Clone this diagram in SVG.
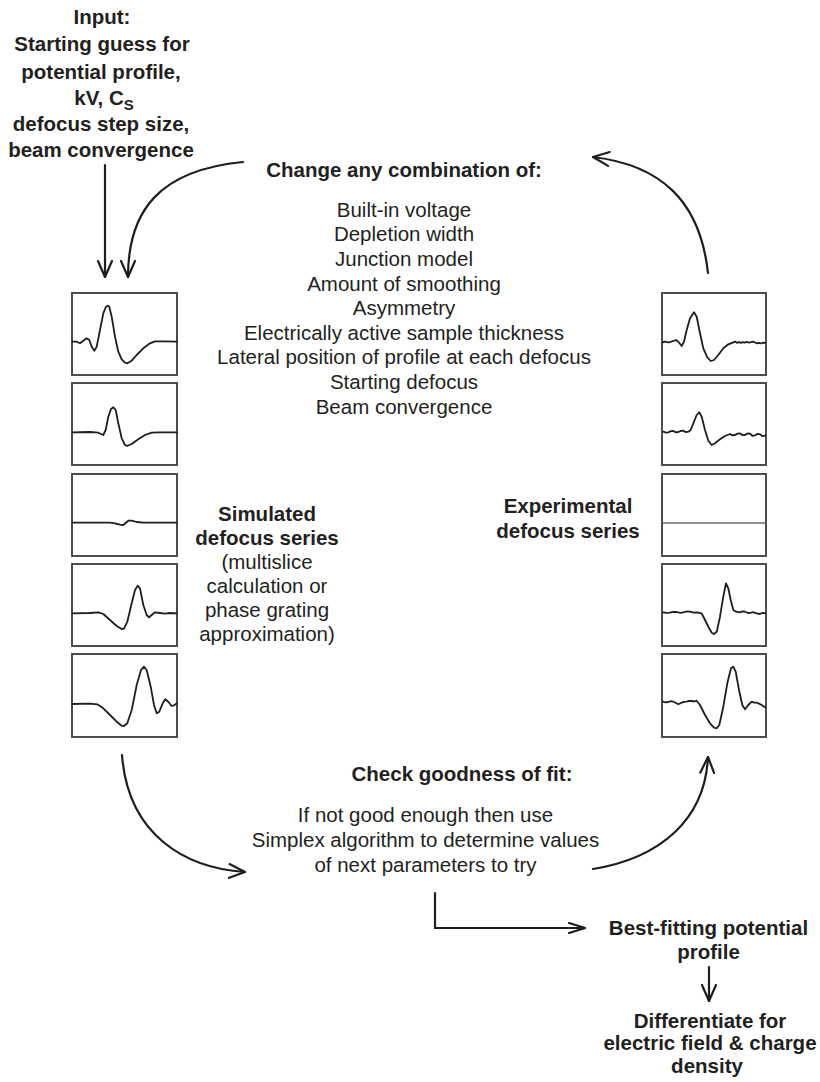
<svg xmlns="http://www.w3.org/2000/svg" width="820" height="1082" viewBox="0 0 820 1082">
<style>
.b{font-family:"Liberation Sans",Arial,Helvetica,sans-serif;font-weight:bold;font-size:20.5px;fill:#231f20;text-anchor:middle}
.r{font-family:"Liberation Sans",Arial,Helvetica,sans-serif;font-size:20.5px;fill:#231f20;text-anchor:middle}
.box{fill:#fff;stroke:#4d4d4d;stroke-width:2}
.w{fill:none;stroke:#1e1e1e;stroke-width:1.8;stroke-linejoin:round;stroke-linecap:round}
.c{fill:none;stroke:#1e1e1e;stroke-width:2.2;stroke-linecap:round}
</style>
<defs>
<marker id="ah" viewBox="0 0 18 16" refX="17" refY="8" markerWidth="18" markerHeight="16" markerUnits="userSpaceOnUse" orient="auto"><path d="M1,1 L17,8 L1,15" fill="none" stroke="#1e1e1e" stroke-width="2.2" stroke-linecap="round" stroke-linejoin="round"/></marker>
<marker id="ahs" viewBox="0 0 18 12" refX="17" refY="6" markerWidth="18" markerHeight="12" markerUnits="userSpaceOnUse" orient="auto"><path d="M1,1 L17,6 L1,11" fill="none" stroke="#1e1e1e" stroke-width="2.2" stroke-linecap="round" stroke-linejoin="round"/></marker>
</defs>
<rect width="820" height="1082" fill="#fff"/>

<g id="input">
<text class="b" x="102" y="24">Input:</text>
<text class="b" x="102" y="51">Starting guess for</text>
<text class="b" x="101" y="78.5">potential profile,</text>
<text class="b" x="104" y="104.5">kV, C<tspan font-size="15" dy="5">S</tspan></text>
<text class="b" x="101" y="131">defocus step size,</text>
<text class="b" x="101" y="157">beam convergence</text>
</g>

<g id="change">
<text class="b" x="404" y="176.7">Change any combination of:</text>
<text class="r" x="404" y="216.7">Built-in voltage</text>
<text class="r" x="404" y="241.3">Depletion width</text>
<text class="r" x="404" y="265.9">Junction model</text>
<text class="r" x="404" y="290.5">Amount of smoothing</text>
<text class="r" x="404" y="315.1">Asymmetry</text>
<text class="r" x="404" y="339.7">Electrically active sample thickness</text>
<text class="r" x="404" y="364.3">Lateral position of profile at each defocus</text>
<text class="r" x="404" y="388.9">Starting defocus</text>
<text class="r" x="404" y="413.5">Beam convergence</text>
</g>

<g id="simulated">
<rect class="box" x="72" y="293" width="105" height="82"/>
<rect class="box" x="72" y="383" width="105" height="82"/>
<rect class="box" x="72" y="474" width="105" height="82"/>
<rect class="box" x="72" y="564" width="105" height="82"/>
<rect class="box" x="72" y="654" width="105" height="83"/>
<polyline class="w" points="72.3,341.7 76.7,341.7 80,343.3 83.3,340.7 86.7,338.3 89.3,340 91.7,346.7 94.3,350.7 96.7,346.7 100,330 103.3,313.3 106,306.7 107.7,305.7 109.3,306.7 111.7,316.7 115,336.7 118.3,351.7 121.7,359.3 125,362.7 127.3,363.3 131.7,360.7 136.7,355 143.3,348.3 150,343.3 155,341.3 163.3,341.3 177,341.7"/>
<polyline class="w" points="72.3,432.3 90,432 98.3,432.7 101.7,434.3 103.3,435 105.7,430 108.3,416.7 111,409 113.3,407.3 115.7,410 118.3,423.3 121.7,438.3 125,445 127.3,446 131.7,444 138.3,439.3 145,435 151.7,432.7 160,432.3 177,432.3"/>
<polyline class="w" points="72.3,522.7 110,522.7 115,523.3 120,524.7 123.3,525 126,522.7 128.3,520.7 131.7,520.7 136.7,522 143.3,522.7 177,522.7"/>
<polyline class="w" points="72.3,613.3 90,613 98.3,612.3 103.3,614 110,620 116.7,626 121.7,629 124,628.7 127.3,621.7 131.7,603.3 135,590 137.7,585.7 140,588.3 143.3,605 146.7,615 149,617.3 151.7,615 155,612.3 160,613 165,613.7 170,613 177,613.3"/>
<polyline class="w" points="72,704 90,703.7 97.3,704.3 103.3,708.3 110,715 116.7,721.7 121.7,725.7 124,726 127.3,723.3 131.7,710 136.7,685 141,670 144,666.7 146.7,670 150.7,686.7 154,705 156.7,713.3 159.3,711.7 162.7,703.3 165.3,699.3 168.3,701.7 171.7,706 174,705.3 177,703.3"/>
<text class="b" x="267" y="520.5">Simulated</text>
<text class="b" x="267" y="544.5">defocus series</text>
<text class="r" x="267" y="569">(multislice</text>
<text class="r" x="267" y="593">calculation or</text>
<text class="r" x="267" y="617">phase grating</text>
<text class="r" x="267" y="641">approximation)</text>
</g>

<g id="experimental">
<rect class="box" x="662" y="293" width="104" height="82"/>
<rect class="box" x="662" y="383" width="104" height="82"/>
<rect class="box" x="662" y="474" width="104" height="82"/>
<rect class="box" x="662" y="564" width="104" height="82"/>
<rect class="box" x="662" y="654" width="104" height="83"/>
<polyline class="w" points="662.7,342.3 664.5,341.6 666.7,341.9 668.5,342.5 670,342 672,341.3 673.3,341 676,340 678.3,341.7 681.7,346 684,341.7 686.7,330 690,318.3 694,312.3 696.7,316.7 700,333.3 703.3,348.3 707.3,357.3 710.7,361 714,360 718.3,355 723.3,348.3 728.3,344.3 733.3,342.3 735,341.6 737,342.8 739,342.1 741,342.9 743,342.2 745,342.6 747,341.8 749,342.7 751,342.2 753,341.6 755,342.5 757,343.4 759,342.8 761,343.5 763,342.7 765.3,343"/>
<polyline class="w" points="663.3,431.7 666,432.6 668.3,432.3 671,431.2 673.3,431 676,432.4 678.3,432 681,430.9 683.3,430.7 686,432.1 688.3,431.7 690.7,430 693.3,423.3 696.7,415 699.3,412.3 701.7,416.7 705,430 708.3,440.7 711.7,445 715,443.3 720,439.3 725,436 730,434 732.5,435.4 735,435 737.5,433.6 740,433.3 742.5,435.2 745,435 747.5,433.4 750,433.7 752.5,435.8 755,435.3 757.5,433.9 760,434.3 762.5,436.2 765.3,435.7"/>
<line x1="663" y1="523" x2="765" y2="523" stroke="#6a6a6a" stroke-width="1.6"/>
<polyline class="w" points="663.3,612.3 666.5,612.9 670,612.7 673,611.8 676.7,612 680,612.8 683.3,612.3 686.5,611.5 690,611.7 693.5,612.6 696.7,612.3 701.7,613.3 705,620 708.3,626.7 711.7,632.7 714,634 716.7,631.7 720,616.7 723.3,596.7 726,583.3 728.3,588.3 730.7,600 733.3,610 736,611.7 740,612.3 742.5,611.4 745,611.7 747.5,612.8 750,613 753,612.2 756.7,613.3 760,614 762.5,612.9 765.3,613.3"/>
<polyline class="w" points="662.7,701.7 665.5,702.4 668.3,702 671,701.2 673.3,701.7 676,703 678.3,704.3 681.7,702.7 684,701.8 686.7,701.7 689,700.8 691.7,701 694,701.5 696.7,700.7 700,705 705,715 710,723.3 714,727.7 716.7,728.3 719.3,725 723.3,706.7 727.3,683.3 731,668.3 733.3,666.7 735.7,671.7 739,690 742.3,705 745,709.3 748.3,705 751.7,701.7 754,702.6 756.7,702.7 759,703.6 761.7,705 763.5,706.4 765.3,707.3"/>
<text class="b" x="568" y="513">Experimental</text>
<text class="b" x="568" y="537.5">defocus series</text>
</g>

<g id="check">
<text class="b" x="462" y="781">Check goodness of fit:</text>
<text class="r" x="425.5" y="822">If not good enough then use</text>
<text class="r" x="425.5" y="846.8">Simplex algorithm to determine values</text>
<text class="r" x="425.5" y="871.6">of next parameters to try</text>
</g>

<g id="bestfit">
<text class="b" x="708.5" y="935">Best-fitting potential</text>
<text class="b" x="708.5" y="958.5">profile</text>
</g>

<g id="differentiate">
<text class="b" x="710" y="1027.5">Differentiate for</text>
<text class="b" x="710" y="1050">electric field &amp; charge</text>
<text class="b" x="707" y="1072.5">density</text>
</g>

<g id="connectors">
<path class="c" d="M105,165 L105,277" marker-end="url(#ah)"/>
<path class="c" d="M243,162 C160,170 128,210 128,277" marker-end="url(#ah)"/>
<path class="c" d="M708,273 C700,200 660,165 593,157" marker-end="url(#ah)"/>
<path class="c" d="M122,755 C128,835 185,868 245,872" marker-end="url(#ah)"/>
<path class="c" d="M593,869 C660,858 705,820 708,757" marker-end="url(#ah)"/>
<path class="c" d="M435,893 L435,928 L585,928" stroke-linejoin="miter" marker-end="url(#ahs)"/>
<path class="c" d="M709,967 L709,1001" marker-end="url(#ah)"/>
</g>
</svg>
